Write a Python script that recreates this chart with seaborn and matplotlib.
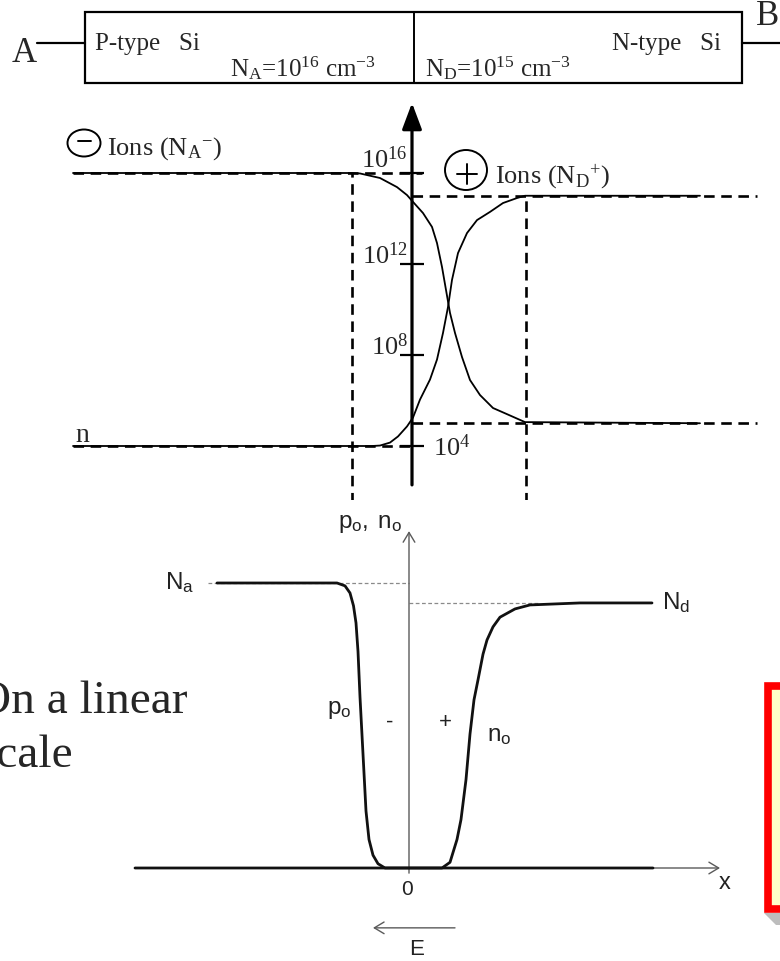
import numpy as np
import matplotlib
matplotlib.use("Agg")
import matplotlib.pyplot as plt
from matplotlib.patches import Rectangle, Ellipse, Polygon
from matplotlib.ticker import NullLocator
import seaborn as sns

# ---------------- data ----------------
# doping and equilibrium levels (cm^-3)
NA = 1e16
ND = 1e15
N_MINORITY_P = 1e4     # electrons on the p side
P_MINORITY_N = 1e5     # holes on the n side
log_ticks = [1e4, 1e8, 1e12, 1e16]
log_tick_labels = [r"$\mathrm{10^{4}}$", r"$\mathrm{10^{8}}$",
                   r"$\mathrm{10^{12}}$", r"$\mathrm{10^{16}}$"]

# depletion edges (arbitrary length units, junction at 0)
x_p_edge = -0.60
x_n_edge = 1.14

# hole concentration across the junction, log10(cm^-3)
hole_x = [-3.39, -0.60, -0.52, -0.32, -0.15, -0.05, 0.01, 0.11, 0.20, 0.25,
          0.30, 0.34, 0.38, 0.43, 0.50, 0.58, 0.68, 0.81, 0.95, 1.13, 2.88]
hole_logc = [16.0, 16.0, 15.98, 15.78, 15.38, 15.03, 14.73, 14.24, 13.63, 12.92,
             11.87, 10.86, 9.85, 8.97, 7.91, 6.90, 6.24, 5.67, 5.40, 5.05, 5.0]

# electron concentration across the junction, log10(cm^-3)
elec_x = [-3.39, -0.40, -0.32, -0.22, -0.14, -0.05, 0.01, 0.08, 0.18, 0.25,
          0.31, 0.36, 0.40, 0.46, 0.55, 0.65, 0.78, 0.91, 1.05, 1.13, 2.88]
elec_logc = [4.0, 4.0, 4.02, 4.15, 4.42, 4.86, 5.25, 6.04, 6.92, 7.80,
             8.97, 10.11, 11.30, 12.48, 13.36, 13.93, 14.29, 14.68, 14.90, 15.0, 15.0]

# linear-scale sketch (normalised to Na)
Na_lin = 1.0
Nd_lin = 0.93
po_x = [-1.92, -0.72, -0.64, -0.59, -0.555, -0.53, -0.51, -0.49, -0.46, -0.43,
        -0.40, -0.36, -0.31, -0.24, 2.44]
po_y = [1.0, 1.0, 0.99, 0.965, 0.92, 0.86, 0.76, 0.60, 0.40, 0.20,
        0.10, 0.045, 0.015, 0.0, 0.0]
no_x = [-2.74, 0.33, 0.41, 0.48, 0.52, 0.57, 0.61, 0.65, 0.69, 0.74,
        0.78, 0.84, 0.91, 1.06, 1.21, 1.71, 2.43]
no_y = [0.0, 0.0, 0.02, 0.10, 0.17, 0.31, 0.47, 0.59, 0.66, 0.75,
        0.80, 0.846, 0.88, 0.909, 0.923, 0.93, 0.93]

# ---------------- style ----------------
sns.set_theme(style="white")
plt.rcParams["font.family"] = ["Liberation Serif", "DejaVu Serif"]
plt.rcParams["mathtext.fontset"] = "custom"
plt.rcParams["mathtext.rm"] = "Liberation Serif"
plt.rcParams["mathtext.it"] = "Liberation Serif:italic"
plt.rcParams["mathtext.bf"] = "Liberation Serif:bold"
plt.rcParams["mathtext.sf"] = "Liberation Sans"

W, H = 780, 961
fig = plt.figure(figsize=(W / 100, H / 100), dpi=100)

# canvas in pixel units for the device sketch and annotations
ax0 = fig.add_axes([0, 0, 1, 1])
ax0.set_xlim(0, W)
ax0.set_ylim(H, 0)
ax0.axis("off")

K = "black"
serif = ["Liberation Serif", "DejaVu Serif"]
sans = ["Liberation Sans", "DejaVu Sans"]

# ---- bar of silicon with contacts A and B ----
ax0.add_patch(Rectangle((85, 12), 657, 71, fill=False, lw=1.6, ec=K))
ax0.plot([414, 414], [12, 83], color=K, lw=1.4)
ax0.plot([37, 85], [43, 43], color=K, lw=1.6)
ax0.plot([742, 780], [43, 43], color=K, lw=1.6)
ax0.text(12, 62, "A", fontsize=25, family=serif, va="baseline")
ax0.text(756, 25, "B", fontsize=25, family=serif, va="baseline")
ax0.text(95, 50, "P-type   Si", fontsize=18, family=serif, va="baseline")
ax0.text(612, 50, "N-type   Si", fontsize=18, family=serif, va="baseline")
ax0.text(230, 76, r"N$_{\mathrm{A}}$=10$^{16}$ cm$^{-3}$", fontsize=18,
         family=serif, va="baseline")
ax0.text(425, 76, r"N$_{\mathrm{D}}$=10$^{15}$ cm$^{-3}$", fontsize=18,
         family=serif, va="baseline")

# ---- ion symbols and labels ----
ax0.add_patch(Ellipse((84, 143), 33, 27, fill=False, ec=K, lw=1.4))
ax0.plot([78, 91], [141, 141], color=K, lw=1.4)
ax0.text(107, 155, r"Ions (N$_{\mathrm{A}}{}^{-}$)", fontsize=19, family=serif,
         va="baseline")
ax0.add_patch(Ellipse((466, 170), 42, 40, fill=False, ec=K, lw=1.4))
ax0.plot([457, 477], [174, 174], color=K, lw=1.4)
ax0.plot([467, 467], [164, 184], color=K, lw=1.4)
ax0.text(495, 183, r"Ions (N$_{\mathrm{D}}{}^{+}$)", fontsize=19, family=serif,
         va="baseline")
ax0.text(75, 442, "n", fontsize=20, family=serif, va="baseline")

# ---- side caption (runs off the left edge) ----
ax0.text(-23, 713, "On a linear", fontsize=34, family=serif, va="baseline")
ax0.text(-22, 767, "scale", fontsize=34, family=serif, va="baseline")

# ---- note box at the right edge ----
ax0.add_patch(Polygon([(764, 913), (780, 913), (780, 925), (776, 925)],
                      closed=True, fc="#bdbdbd", ec="none"))
ax0.add_patch(Rectangle((768, 686), 30, 223, fc="#ffffc8", ec="#ff0000", lw=5.5))

# ---------------- log-scale concentration profile ----------------
ax1 = fig.add_axes([0, 1 - 500 / H, 1, 400 / H])
ax1.set_facecolor("none")
ax1.set_yscale("log")
ax1.set_xlim(-4.12, 3.68)
ax1.set_ylim(10 ** 1.6264, 10 ** 19.209)
for s in ax1.spines.values():
    s.set_visible(False)
ax1.spines["left"].set_position(("data", 0))
ax1.set_xticks([])
ax1.set_yticks(log_ticks)
ax1.yaxis.set_minor_locator(NullLocator())
ax1.tick_params(axis="y", which="major", direction="inout", length=17, width=1.6,
                color=K, left=True, labelleft=False)

dash = (0, (4, 2.5))
ax1.hlines(NA, -3.39, 0.10, colors=K, lw=1.9, linestyles=dash)
ax1.hlines(N_MINORITY_P, -3.39, 0.0, colors=K, lw=1.9, linestyles=dash)
ax1.hlines(ND, 0.0, 3.45, colors=K, lw=1.9, linestyles=dash)
ax1.hlines(P_MINORITY_N, 0.0, 3.45, colors=K, lw=1.9, linestyles=dash)
ax1.vlines(x_p_edge, 10 ** 1.5, NA, colors=K, lw=1.9, linestyles=dash)
ax1.vlines(x_n_edge, 10 ** 1.5, ND, colors=K, lw=1.9, linestyles=dash)

sns.lineplot(x=hole_x, y=10 ** np.array(hole_logc), ax=ax1, color=K, lw=1.3,
             estimator=None, sort=False)
sns.lineplot(x=elec_x, y=10 ** np.array(elec_logc), ax=ax1, color=K, lw=1.3,
             estimator=None, sort=False)

ax1.annotate("", xy=(0, 10 ** 19.08), xytext=(0, 10 ** 2.29),
             arrowprops=dict(arrowstyle="-|>,head_length=0.8,head_width=0.3",
                             lw=2.3, color=K, shrinkA=0, shrinkB=0,
                             mutation_scale=20))

for val, lab in zip(log_ticks, log_tick_labels):
    if val == 1e4:
        ax1.annotate(lab, xy=(0, val), xytext=(15, -1), textcoords="offset points",
                     ha="left", va="center", fontsize=19)
    elif val == 1e16:
        ax1.annotate(lab, xy=(0, val), xytext=(-3, 3.5), textcoords="offset points",
                     ha="right", va="baseline", fontsize=19)
    else:
        ax1.annotate(lab, xy=(0, val), xytext=(-3, 0), textcoords="offset points",
                     ha="right", va="baseline", fontsize=19)

# ---------------- linear-scale sketch ----------------
ax2 = fig.add_axes([0, 0, 1, 461 / H])
ax2.set_facecolor("none")
ax2.set_xlim(-4.09, 3.71)
ax2.set_ylim(-0.3263, 1.2912)
ax2.axis("off")

G = "#5a5a5a"
ax2.hlines(Na_lin, -2.01, 0.0, colors="#8a8a8a", lw=0.9, linestyles=(0, (3, 2)),
           zorder=1)
ax2.hlines(Nd_lin, 0.0, 1.3, colors="#8a8a8a", lw=0.9, linestyles=(0, (3, 2)),
           zorder=1)
thin_arrow = dict(arrowstyle="->,head_length=0.5,head_width=0.3",
                  lw=1.0, color=G, shrinkA=0, shrinkB=0, mutation_scale=14)
ax2.annotate("", xy=(0, 1.182), xytext=(0, -0.018), arrowprops=thin_arrow,
             zorder=1)
ax2.annotate("", xy=(3.11, 0), xytext=(-2.74, 0), arrowprops=thin_arrow,
             zorder=1)
ax2.annotate("", xy=(-0.36, -0.210), xytext=(0.46, -0.210), arrowprops=thin_arrow,
             zorder=1)

sns.lineplot(x=po_x, y=po_y, ax=ax2, color="#111111", lw=2.0,
             estimator=None, sort=False, zorder=3)
sns.lineplot(x=no_x, y=no_y, ax=ax2, color="#111111", lw=2.0,
             estimator=None, sort=False, zorder=3)

TXT = "#222222"
ax2.text(-0.39, 1.208, r"$\mathsf{p_o,\ n_o}$", fontsize=17.5, color=TXT,
         ha="center", va="center")
ax2.text(-2.44, Na_lin, r"$\mathsf{N_a}$", fontsize=17.5, color=TXT,
         ha="left", va="center")
ax2.text(2.53, Nd_lin, r"$\mathsf{N_d}$", fontsize=17.5, color=TXT,
         ha="left", va="center")
ax2.text(-0.82, 0.555, r"$\mathsf{p_o}$", fontsize=17.5, color=TXT,
         ha="left", va="center")
ax2.text(0.78, 0.460, r"$\mathsf{n_o}$", fontsize=17.5, color=TXT,
         ha="left", va="center")
ax2.text(-0.19, 0.51, "-", fontsize=16, color=TXT, family=sans,
         ha="center", va="center")
ax2.text(0.36, 0.51, "+", fontsize=16, color=TXT, family=sans,
         ha="center", va="center")
ax2.text(-0.02, -0.077, "0", fontsize=15, color=TXT, family=sans,
         ha="center", va="center")
ax2.text(3.16, -0.052, "x", fontsize=17, color=TXT, family=sans,
         ha="center", va="center")
ax2.text(0.08, -0.287, "E", fontsize=16, color=TXT, family=sans,
         ha="center", va="center")

fig.savefig("out.png", dpi=100)
